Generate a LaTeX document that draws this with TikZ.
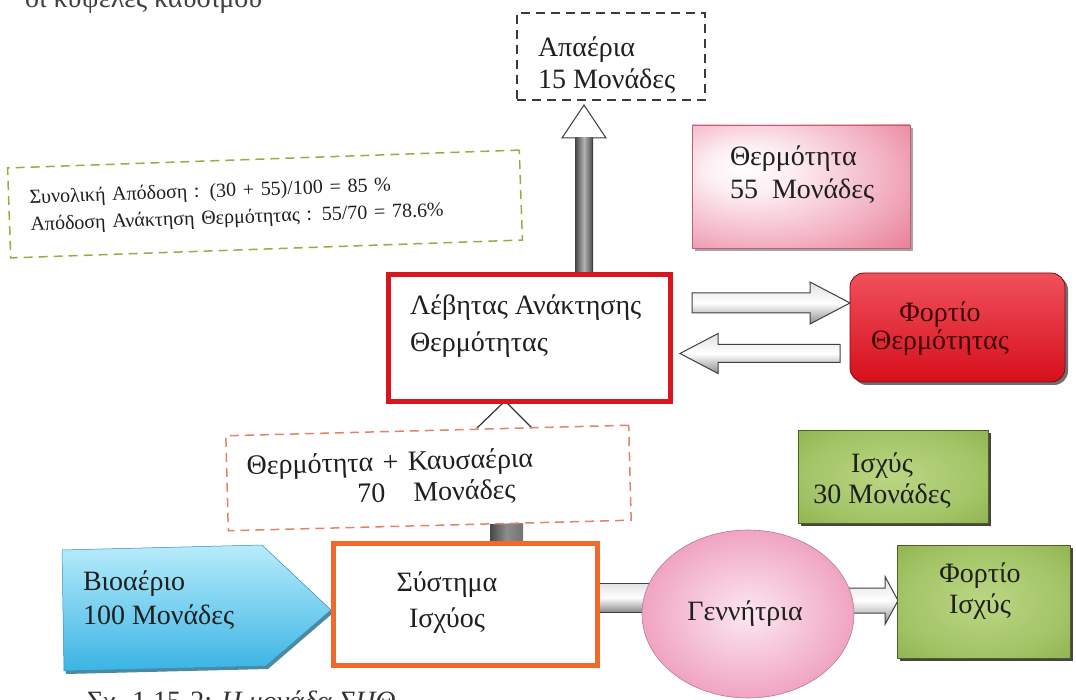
\documentclass[tikz,border=0pt]{standalone}
\usepackage{fontspec}
\setmainfont{Liberation Serif}
\usetikzlibrary{calc,shadows,shapes.geometric,backgrounds}

\definecolor{levred}{HTML}{D8161F}
\definecolor{sysorange}{HTML}{F06A2C}
\definecolor{dashorange}{HTML}{E28468}
\definecolor{dashgreen}{HTML}{8FB045}
\definecolor{dashgray}{HTML}{3A3A3A}
\definecolor{pinkedge}{HTML}{E5708A}
\definecolor{pinkmid}{HTML}{F3B2C3}
\definecolor{pinkin}{HTML}{FCEEF2}
\definecolor{greenedge}{HTML}{7FA23A}
\definecolor{greenmid}{HTML}{A2C466}
\definecolor{greenin}{HTML}{BCD684}
\definecolor{greendeep}{HTML}{6E8F30}
\definecolor{redtop}{HTML}{F0505C}
\definecolor{redbot}{HTML}{D60F1C}
\definecolor{cyanlight}{HTML}{B8ECFB}
\definecolor{cyandark}{HTML}{3AB4E4}
\definecolor{genpink}{HTML}{F0A4C2}
\definecolor{genin}{HTML}{FCE8F0}
\definecolor{inkred}{HTML}{3A0606}

% soft glows for the filled boxes
\pgfdeclareradialshading{pinkglow}{\pgfpoint{-14bp}{8bp}}{%
  color(0bp)=(white); color(10bp)=(pinkin); color(28bp)=(pinkmid);
  color(46bp)=(pinkedge); color(72bp)=(pinkedge)}
\pgfdeclareradialshading{greenglow}{\pgfpoint{0bp}{0bp}}{%
  color(0bp)=(greenin); color(24bp)=(greenmid); color(48bp)=(greenedge);
  color(72bp)=(greendeep)}

% two-line labels whose reference point is the first baseline
\newcommand\twol[3][32pt]{\vtop{\baselineskip=#1\relax\lineskiplimit=-\maxdimen
  \halign{##\hfil\cr#2\cr#3\cr}}}
\newcommand\twoc[3][32pt]{\vtop{\baselineskip=#1\relax\lineskiplimit=-\maxdimen
  \halign{\hfil##\hfil\cr#2\cr#3\cr}}}

% horizontal block arrow: style, tail, tip, half shaft, half head, head length
\newcommand\fatarrowh[6]{%
  \path[#1] let \p1=#2, \p2=#3, \n1={sign(\x2-\x1)} in
    (\x1,\y1+#4) -- ({\x2-\n1*#6},\y1+#4) -- ({\x2-\n1*#6},\y1+#5) -- (\x2,\y1)
    -- ({\x2-\n1*#6},\y1-#5) -- ({\x2-\n1*#6},\y1-#4) -- (\x1,\y1-#4) -- cycle;}

\begin{document}
\begin{tikzpicture}[x=1pt,y=-1pt,
  every node/.style={inner sep=0pt, outer sep=0pt, text=black!88},
  big/.style={font=\fontsize{28}{32}\selectfont},
  small/.style={font=\fontsize{20}{27}\selectfont},
  dbox/.style={draw=#1, line width=1.5pt, dash pattern=on 9pt off 6pt, fill=white},
  thickbox/.style={draw=#1, line width=5pt, fill=white},
  pinkbox/.style={draw=pinkedge!85!black, line width=0.6pt, shading=pinkglow,
    drop shadow={shadow xshift=3pt, shadow yshift=-3pt, fill=black!45, opacity=.8}},
  greenbox/.style={draw=greenedge!60!black, line width=0.6pt, shading=greenglow,
    drop shadow={shadow xshift=3pt, shadow yshift=-3pt, fill=black!85, opacity=.85}},
  redbox/.style={rounded corners=14pt, draw=redbot!60!black, line width=0.8pt,
    top color=redtop, bottom color=redbot,
    drop shadow={shadow xshift=3pt, shadow yshift=-3pt, fill=black!70, opacity=.8}},
  fatarrow/.style={draw=black!75, line width=1pt, line join=miter,
    top color=black!12, bottom color=black!45, middle color=white},
  thinline/.style={draw=black!80, line width=1.2pt}
]
\useasboundingbox (0,0) rectangle (1076,700);

% boxes
\node[dbox=dashgray, minimum width=188pt, minimum height=87pt] (apa) at (611,56.5) {};
\node[big, anchor=base west] (apa-t) at (538,57) {\twol{Απαέρια}{15 Μονάδες}};

\node[dbox=dashgreen, rotate=2, minimum width=512pt, minimum height=90pt,
      text width=470pt, align=left, small] (eff) at (265,204)
  {Συνολική Απόδοση : (30 + 55)/100 = 85 \%\\Απόδοση Ανάκτηση Θερμότητας : 55/70 = 78.6\%};

\node[pinkbox, minimum width=218pt, minimum height=123pt] (heat) at (801,186.5) {};
\node[big, anchor=base west] (heat-t) at (730,166) {\twol[33pt]{Θερμότητα}{55\ \ Μονάδες}};

\node[thickbox=levred, minimum width=282pt, minimum height=126pt] (lev) at (529,338) {};
\node[big, anchor=base west] (lev-t) at (410,315) {\twol[37pt]{Λέβητας Ανάκτησης}{Θερμότητας}};

\node[redbox, minimum width=215pt, minimum height=109pt] (fth) at (957.5,327.5) {};
\node[big, anchor=base, text=inkred] (fth-t) at (940,322) {\twoc[28pt]{Φορτίο}{Θερμότητας}};

\node[dbox=dashorange, rotate=1.5, minimum width=403pt, minimum height=95pt,
      text width=363pt, align=left, font=\fontsize{28}{31}\selectfont] (tk) at (428.5,478)
  {Θερμότητα + Καυσαέρια\\\hspace*{110pt}70\hspace{28pt}Μονάδες};

\node[greenbox, minimum width=190pt, minimum height=93pt] (isx) at (893,476.5) {};
\node[big, anchor=base] (isx-t) at (882,472) {\twoc[31pt]{Ισχύς}{30 Μονάδες}};

\path[draw=cyandark!80!black, line width=0.5pt, top color=cyanlight, bottom color=cyandark,
      drop shadow={shadow xshift=2pt, shadow yshift=-3pt, fill=cyandark!60!black, opacity=.8}]
  (62,550) -- (262,545) -- (331,610) -- (266,666) -- (64,671) -- cycle;
\node[big, anchor=base west] (bio-t) at (83,590) {\twol[34pt]{Βιοαέριο}{100 Μονάδες}};

\node[thickbox=sysorange, minimum width=264pt, minimum height=122pt] (sys) at (465,604) {};
\node[big, anchor=base] (sys-t) at (447,591) {\twoc[36pt]{Σύστημα}{Ισχύος}};

\node[ellipse, draw=genpink!75!black, line width=0.6pt, inner color=genin, outer color=genpink,
      minimum width=212pt, minimum height=168pt] (gen) at (748,614) {};
\node[big, anchor=base] (gen-t) at (745,620) {Γεννήτρια};

\node[greenbox, minimum width=173pt, minimum height=113pt] (fis) at (983.5,601.5) {};
\node[big, anchor=base] (fis-t) at (980,582) {\twoc[31pt]{Φορτίο}{Ισχύς}};

% page fragments cut by the edges
\node[big, anchor=base west, text=black!75] (head-frag) at (25,8) {οι κυψέλες καυσίμου};
\node[big, anchor=base west, text=black!80] (cap) at (87,710) {Σχ. 1.15-2: \textit{Η μονάδα ΣΗΘ}};

% connectors, under the boxes
\begin{scope}[on background layer]
  \fill[white] (0,0) rectangle (1076,700);

  % flue gas up to the exhaust box
  \coordinate (uptip) at ($(apa.south)+(-27,5)$);
  \coordinate (upfoot) at (uptip |- lev.north);
  \fill[white] ($(uptip)+(-22,33)$) -- (uptip) -- ($(uptip)+(22,33)$) -- cycle;
  \shade[left color=black!70, right color=black!70, middle color=black!30]
    ($(upfoot)+(-8.5,0)$) rectangle ($(uptip)+(8.5,33)$);
  \draw[black!75, line width=1pt, line join=miter]
    ($(upfoot)+(-8.5,0)$) -- ($(uptip)+(-8.5,33)$) -- ($(uptip)+(-22,33)$) -- (uptip)
    -- ($(uptip)+(22,33)$) -- ($(uptip)+(8.5,33)$) -- ($(upfoot)+(8.5,0)$);

  % boiler <-> heat load
  \fatarrowh{fatarrow}{($(lev.east)+(22,-35)$)}{($(fth.west)+(0,-24.5)$)}{10pt}{21pt}{40pt}
  \fatarrowh{fatarrow}{($(fth.west)+(-10,26)$)}{($(lev.east)+(10,15)$)}{9pt}{20pt}{38pt}

  % exhaust heat into the boiler
  \draw[thinline] ($(lev.south)+(-52,27)$) -- ($(lev.south)+(-24,0)$) -- ($(lev.south)+(3,27)$);

  % power system to exhaust heat
  \shade[left color=black!72, right color=black!55, middle color=black!45]
    ($(sys.north)+(25,0)$) rectangle ($(sys.north)+(58,-24)$);

  % power system to generator
  \path[draw=black!75, line width=1pt, top color=black!12, bottom color=black!45, middle color=white]
    ($(sys.east)+(0,-21)$) rectangle ($(sys.east)+(55,8)$);

  % generator to power load
  \fatarrowh{fatarrow}{($(gen.east)+(-14,-13.5)$)}{($(fis.west)+(1,-1.5)$)}{12.5pt}{24pt}{13pt}
\end{scope}
\end{tikzpicture}
\end{document}
